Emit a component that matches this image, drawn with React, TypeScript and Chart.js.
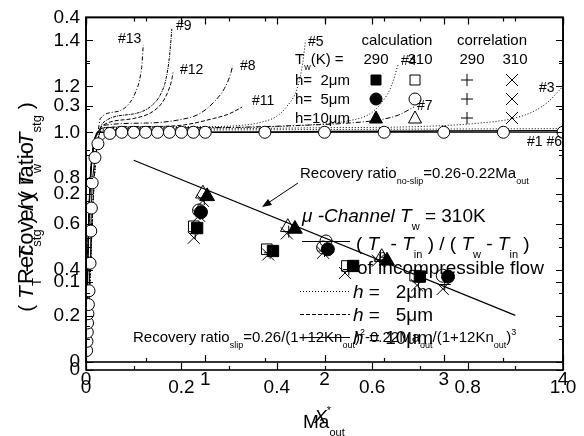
import React, { useEffect, useRef } from 'react';
import { Chart, registerables } from 'chart.js';
Chart.register(...registerables);

const FONT = '"Liberation Sans", Arial, sans-serif';

// ---------- Chart A : Recovery ratio vs Ma_out ----------
const maTicks = [0, 0.2, 0.4, 0.6, 0.8, 1.0];
const maMinor = [0.1, 0.3, 0.5, 0.7, 0.9];
const rrTicks = [0, 0.1, 0.2, 0.3, 0.4];
const rrMinor = [0.05, 0.15, 0.25, 0.35];

const noSlipMa = [0.1, 0.9];
const noSlipRR = [0.238, 0.062];

// calculation, Tw = 290 K (filled)
const sq290Ma = [0.233, 0.392, 0.56, 0.7];
const sq290RR = [0.161, 0.135, 0.118, 0.106];
const ci290Ma = [0.241, 0.507, 0.759];
const ci290RR = [0.179, 0.137, 0.106];
const tr290Ma = [0.254, 0.438, 0.631];
const tr290RR = [0.197, 0.16, 0.124];
// calculation, Tw = 310 K (open)
const sq310Ma = [0.226, 0.379, 0.547, 0.69];
const sq310RR = [0.163, 0.137, 0.118, 0.107];
const ci310Ma = [0.237, 0.497, 0.748];
const ci310RR = [0.181, 0.139, 0.107];
const tr310Ma = [0.245, 0.423, 0.62];
const tr310RR = [0.2, 0.162, 0.128];
// correlation 290 K (+) and 310 K (x)
const corr290Ma = [0.229, 0.386, 0.551, 0.697, 0.239, 0.5, 0.752, 0.248, 0.425, 0.616];
const corr290RR = [0.155, 0.133, 0.114, 0.1, 0.177, 0.135, 0.097, 0.194, 0.157, 0.125];
const corr310Ma = [0.226, 0.382, 0.543, 0.694, 0.237, 0.497, 0.748, 0.245, 0.421, 0.612];
const corr310RR = [0.15, 0.131, 0.11, 0.096, 0.175, 0.133, 0.092, 0.192, 0.155, 0.124];

// ---------- Chart B : temperature ratio vs X* ----------
const xsTicks = [0, 1, 2, 3, 4];
const xsMinor = [0.5, 1.5, 2.5, 3.5];
const thTicks = [0, 0.2, 0.4, 0.6, 0.8, 1.0, 1.2, 1.4];
const thMinor = [0.1, 0.3, 0.5, 0.7, 0.9, 1.1, 1.3, 1.5];

const incX = [0.005, 0.008, 0.011, 0.013, 0.016, 0.02, 0.025, 0.034, 0.04, 0.045, 0.052, 0.075, 0.1, 0.2, 0.3, 0.4, 0.5, 0.6, 0.7, 0.8, 0.9, 1.0, 1.5, 2.0, 2.5, 3.0, 3.5, 4.0];
const incY = [0.05, 0.09, 0.13, 0.17, 0.21, 0.25, 0.31, 0.43, 0.57, 0.67, 0.78, 0.89, 0.95, 0.995, 1, 1, 1, 1, 1, 1, 1, 1, 1, 1, 1, 1, 1, 1];

const riseX = [0, 0.01, 0.02, 0.03, 0.045, 0.07, 0.1];
const riseY = [0, 0.3, 0.55, 0.72, 0.86, 0.96, 1.0];
const riseDotX = [0, 0.02, 0.04, 0.06, 0.08, 0.11];
const riseDotY = [0, 0.2, 0.45, 0.7, 0.88, 0.99];

const c13X = [0.12, 0.26, 0.37, 0.42, 0.45, 0.47, 0.48];
const c13Y = [1.06, 1.09, 1.13, 1.18, 1.23, 1.3, 1.38];
const c9X = [0.14, 0.4, 0.56, 0.63, 0.67, 0.7, 0.72];
const c9Y = [1.04, 1.08, 1.12, 1.17, 1.23, 1.33, 1.45];
const c12X = [0.14, 0.4, 0.56, 0.64, 0.69, 0.72, 0.73];
const c12Y = [1.03, 1.06, 1.09, 1.13, 1.18, 1.23, 1.26];
const c8X = [0.15, 0.5, 0.79, 0.95, 1.07, 1.16, 1.21, 1.23];
const c8Y = [1.03, 1.04, 1.055, 1.08, 1.13, 1.19, 1.25, 1.29];
const c11X = [0.15, 0.5, 0.79, 1.07, 1.2, 1.31];
const c11Y = [1.02, 1.025, 1.03, 1.06, 1.08, 1.11];
const c5X = [0.15, 1.0, 1.3, 1.48, 1.6, 1.68, 1.77, 1.82, 1.84];
const c5Y = [1.02, 1.025, 1.03, 1.045, 1.07, 1.11, 1.19, 1.31, 1.4];
const c4X = [0.15, 1.0, 1.8, 2.2, 2.38, 2.48, 2.56, 2.62];
const c4Y = [1.02, 1.02, 1.03, 1.05, 1.08, 1.13, 1.2, 1.3];
const c7X = [0.15, 1.0, 1.8, 2.2, 2.47, 2.62, 2.75];
const c7Y = [1.015, 1.02, 1.03, 1.04, 1.055, 1.075, 1.11];
const c3X = [0.15, 1.0, 2.0, 2.8, 3.3, 3.58, 3.75, 3.87, 4.0];
const c3Y = [1.01, 1.015, 1.02, 1.025, 1.04, 1.06, 1.09, 1.13, 1.2];
const c6X = [0.15, 1, 2, 3, 4];
const c6Y = [1.01, 1.01, 1.012, 1.014, 1.016];
const c1X = [0.15, 1, 2, 3, 4];
const c1Y = [1.0, 1.0, 1.003, 1.005, 1.007];

const pts = (xs: number[], ys: number[]) => xs.map((x, i) => ({ x, y: ys[i] }));

type Seg = { t: string; sub?: boolean; sup?: boolean; it?: boolean };
const fontFor = (size: number, it?: boolean) => `${it ? 'italic ' : ''}${size}px ${FONT}`;

function drawRich(ctx: CanvasRenderingContext2D, x: number, y: number, segs: Seg[], size: number, align: string = 'left') {
  ctx.save();
  ctx.textBaseline = 'alphabetic';
  ctx.textAlign = 'left';
  ctx.fillStyle = '#000';
  const small = Math.round(size * 0.6);
  let total = 0;
  const widths = segs.map((s) => {
    ctx.font = fontFor(s.sub || s.sup ? small : size, s.it);
    const w = ctx.measureText(s.t).width;
    total += w;
    return w;
  });
  let cx = align === 'center' ? x - total / 2 : align === 'right' ? x - total : x;
  segs.forEach((s, i) => {
    ctx.font = fontFor(s.sub || s.sup ? small : size, s.it);
    const dy = s.sub ? size * 0.4 : s.sup ? -size * 0.45 : 0;
    ctx.fillText(s.t, cx, y + dy);
    cx += widths[i];
  });
  ctx.restore();
}

function drawVertical(ctx: CanvasRenderingContext2D, x: number, y: number, segs: Seg[], size: number) {
  ctx.save();
  ctx.translate(x, y);
  ctx.rotate(-Math.PI / 2);
  drawRich(ctx, 0, 0, segs, size, 'center');
  ctx.restore();
}

function drawFrame(chart: any, xMaj: number[], xMin: number[], yMaj: number[], yMin: number[]) {
  const { ctx, chartArea: a, scales } = chart;
  const xs = scales.x;
  const ys = scales.y;
  ctx.save();
  ctx.strokeStyle = '#000';
  ctx.lineWidth = 1.2;
  ctx.beginPath();
  const vx = (vals: number[], len: number) =>
    vals.forEach((v) => {
      const p = Math.round(xs.getPixelForValue(v)) + 0.5;
      ctx.moveTo(p, a.bottom);
      ctx.lineTo(p, a.bottom - len);
      ctx.moveTo(p, a.top);
      ctx.lineTo(p, a.top + len);
    });
  const vy = (vals: number[], len: number) =>
    vals.forEach((v) => {
      const p = Math.round(ys.getPixelForValue(v)) + 0.5;
      ctx.moveTo(a.left, p);
      ctx.lineTo(a.left + len, p);
      ctx.moveTo(a.right, p);
      ctx.lineTo(a.right - len, p);
    });
  vx(xMaj, 7);
  vx(xMin, 4);
  vy(yMaj, 7);
  vy(yMin, 4);
  ctx.stroke();
  ctx.lineWidth = 1.6;
  ctx.strokeRect(a.left, a.top, a.right - a.left, a.bottom - a.top);
  ctx.restore();
}

function marker(ctx: CanvasRenderingContext2D, kind: string, x: number, y: number, filled: boolean) {
  ctx.save();
  ctx.strokeStyle = '#000';
  ctx.fillStyle = '#000';
  ctx.lineWidth = 1;
  ctx.beginPath();
  if (kind === 'sq') {
    ctx.rect(x - 5, y - 5, 10, 10);
  } else if (kind === 'ci') {
    ctx.arc(x, y, 6, 0, Math.PI * 2);
  } else if (kind === 'tr') {
    ctx.moveTo(x, y - 7);
    ctx.lineTo(x + 6.5, y + 5);
    ctx.lineTo(x - 6.5, y + 5);
    ctx.closePath();
  } else if (kind === 'plus') {
    ctx.moveTo(x - 6, y);
    ctx.lineTo(x + 6, y);
    ctx.moveTo(x, y - 6);
    ctx.lineTo(x, y + 6);
  } else if (kind === 'x') {
    ctx.moveTo(x - 6, y - 6);
    ctx.lineTo(x + 6, y + 6);
    ctx.moveTo(x + 6, y - 6);
    ctx.lineTo(x - 6, y + 6);
  }
  if (filled) ctx.fill();
  ctx.stroke();
  ctx.restore();
}

const pluginA = {
  id: 'frameA',
  afterDraw(chart: any) {
    const ctx: CanvasRenderingContext2D = chart.ctx;
    drawFrame(chart, maTicks, maMinor, rrTicks, rrMinor);

    // axis titles
    drawVertical(ctx, 33, 207, [
      { t: '( ' }, { t: 'T', it: true }, { t: 'T', sub: true }, { t: ' - ' }, { t: 'T', it: true }, { t: 'stg', sub: true },
      { t: ' ) / ( ' }, { t: 'T', it: true }, { t: 'w', sub: true }, { t: ' - ' }, { t: 'T', it: true }, { t: 'stg', sub: true }, { t: ' )' },
    ], 21);
    drawVertical(ctx, 33, 213, [{ t: 'Recovery ratio' }], 22);
    drawRich(ctx, 303, 428, [{ t: 'Ma' }, { t: 'out', sub: true }], 19);
    drawRich(ctx, 314, 423, [{ t: 'X', it: true }, { t: '*', sup: true }], 19);

    // no-slip annotation
    drawRich(ctx, 300, 178, [{ t: 'Recovery ratio' }, { t: 'no-slip', sub: true }, { t: '=0.26-0.22Ma' }, { t: 'out', sub: true }], 15);
    ctx.save();
    ctx.strokeStyle = '#000';
    ctx.fillStyle = '#000';
    ctx.lineWidth = 1;
    ctx.beginPath();
    ctx.moveTo(298, 183);
    ctx.lineTo(268, 203);
    ctx.stroke();
    ctx.beginPath();
    ctx.moveTo(262, 207);
    ctx.lineTo(268, 199);
    ctx.lineTo(272, 205);
    ctx.closePath();
    ctx.fill();
    ctx.restore();

    // slip annotation
    drawRich(ctx, 133, 342, [
      { t: 'Recovery ratio' }, { t: 'slip', sub: true }, { t: '=0.26/(1+12Kn' }, { t: 'out', sub: true }, { t: ')' }, { t: '2', sup: true },
      { t: '-0.22Ma' }, { t: 'out', sub: true }, { t: '/(1+12Kn' }, { t: 'out', sub: true }, { t: ')' }, { t: '3', sup: true },
    ], 15);

    // lower legend
    drawRich(ctx, 302, 222, [{ t: 'μ -Channel ', it: true }, { t: 'T', it: true }, { t: 'w', sub: true }, { t: ' = 310K' }], 19);
    ctx.save();
    ctx.strokeStyle = '#000';
    ctx.lineWidth = 1;
    ctx.beginPath();
    ctx.moveTo(302, 241.5);
    ctx.lineTo(350, 241.5);
    ctx.stroke();
    ctx.restore();
    marker(ctx, 'ci', 326, 241, false);
    drawRich(ctx, 356, 250, [
      { t: '( ' }, { t: 'T', it: true }, { t: 'b', sub: true }, { t: ' - ' }, { t: 'T', it: true }, { t: 'in', sub: true },
      { t: ' ) / ( ' }, { t: 'T', it: true }, { t: 'w', sub: true }, { t: ' - ' }, { t: 'T', it: true }, { t: 'in', sub: true }, { t: ' )' },
    ], 19);
    drawRich(ctx, 357, 274, [{ t: 'of incompressible flow' }], 19);
    const legLines: [number, number[], string][] = [
      [291, [1, 2], '2'],
      [314, [4, 2], '5'],
      [337, [], '10'],
    ];
    legLines.forEach(([ly, dash, lab]) => {
      ctx.save();
      ctx.strokeStyle = '#000';
      ctx.lineWidth = 1;
      ctx.setLineDash(dash);
      ctx.beginPath();
      ctx.moveTo(300, ly + 0.5);
      ctx.lineTo(350, ly + 0.5);
      ctx.stroke();
      ctx.restore();
      drawRich(ctx, 353, ly + 7, [{ t: 'h', it: true }, { t: lab === '10' ? ' = 10μm' : ' =   ' + lab + 'μm' }], 19);
    });

    // upper legend table
    drawRich(ctx, 397, 45, [{ t: 'calculation' }], 15, 'center');
    drawRich(ctx, 492, 45, [{ t: 'correlation' }], 15, 'center');
    drawRich(ctx, 295, 64, [{ t: 'T' }, { t: 'w', sub: true }, { t: '(K) =' }], 15);
    drawRich(ctx, 376, 64, [{ t: '290' }], 15, 'center');
    drawRich(ctx, 420, 64, [{ t: '310' }], 15, 'center');
    drawRich(ctx, 472, 64, [{ t: '290' }], 15, 'center');
    drawRich(ctx, 515, 64, [{ t: '310' }], 15, 'center');
    const rows: [number, string, string][] = [
      [85, 'h=  2μm', 'sq'],
      [104, 'h=  5μm', 'ci'],
      [123, 'h=10μm', 'tr'],
    ];
    rows.forEach(([by, lab, kind]) => {
      drawRich(ctx, 295, by, [{ t: lab }], 15);
      marker(ctx, kind, 376, by - 5, true);
      marker(ctx, kind, 415, by - 5, false);
      marker(ctx, 'plus', 467, by - 5, false);
      marker(ctx, 'x', 512, by - 5, false);
    });
  },
};

const pluginB = {
  id: 'frameB',
  afterDraw(chart: any) {
    const ctx: CanvasRenderingContext2D = chart.ctx;
    drawFrame(chart, xsTicks, xsMinor, thTicks, thMinor);
    const labels: [string, number, number][] = [
      ['#13', 118, 43],
      ['#9', 176, 30],
      ['#12', 180, 74],
      ['#8', 240, 70],
      ['#11', 252, 105],
      ['#5', 308, 46],
      ['#4', 401, 65],
      ['#7', 417, 110],
      ['#3', 539, 92],
      ['#1 #6', 527, 146],
    ];
    labels.forEach(([t, x, y]) => drawRich(ctx, x, y, [{ t }], 14));
  },
};

const tickFont = { family: FONT, size: 19 };
const dec = (v: any) => (Number(v) === 0 ? '0' : Number(v).toFixed(1));

function scaleX(min: number, max: number, ticks: number[], height: number, pad: number, cb: (v: any) => string) {
  return {
    type: 'linear',
    min,
    max,
    afterBuildTicks: (s: any) => {
      s.ticks = ticks.map((v) => ({ value: v }));
    },
    afterFit: (s: any) => {
      s.height = height;
    },
    grid: { display: false, drawTicks: false },
    border: { display: false },
    ticks: { font: tickFont, color: '#000', padding: pad, maxRotation: 0, autoSkip: false, callback: cb },
  };
}
function scaleY(min: number, max: number, ticks: number[], pad: number, cb: (v: any) => string) {
  return {
    type: 'linear',
    min,
    max,
    afterBuildTicks: (s: any) => {
      s.ticks = ticks.map((v) => ({ value: v }));
    },
    afterFit: (s: any) => {
      s.width = 86;
    },
    grid: { display: false, drawTicks: false },
    border: { display: false },
    ticks: { font: tickFont, color: '#000', padding: pad, autoSkip: false, callback: cb },
  };
}

const markerDS = (data: any[], style: string, radius: number, filled: boolean, bw = 1) => ({
  data,
  showLine: false,
  pointStyle: style,
  pointRadius: radius,
  pointBackgroundColor: filled ? '#000' : 'rgba(0,0,0,0)',
  pointBorderColor: '#000',
  pointBorderWidth: bw,
});

const lineDS = (data: any[], dash: number[], width = 1) => ({
  data,
  showLine: true,
  pointRadius: 0,
  borderColor: '#000',
  borderWidth: width,
  borderDash: dash,
  cubicInterpolationMode: 'monotone',
  fill: false,
});

export default function App() {
  const refA = useRef<HTMLCanvasElement>(null);
  const refB = useRef<HTMLCanvasElement>(null);

  useEffect(() => {
    const solidRise = (xs: number[], ys: number[]) => pts([...riseX, ...xs], [...riseY, ...ys]);
    const dotRise = (xs: number[], ys: number[]) => pts([...riseDotX, ...xs], [...riseDotY, ...ys]);

    const chartB = new Chart(refB.current as HTMLCanvasElement, {
      type: 'scatter',
      data: {
        datasets: [
          {
            data: pts(incX, incY),
            showLine: true,
            borderColor: '#000',
            borderWidth: 1,
            pointStyle: 'circle',
            pointRadius: 6,
            pointBackgroundColor: '#fff',
            pointBorderColor: '#000',
            pointBorderWidth: 1,
          },
          lineDS(solidRise(c1X, c1Y), [], 1.5),
          lineDS(dotRise(c6X, c6Y), [1, 2]),
          lineDS(dotRise(c3X, c3Y), [1, 2]),
          lineDS(solidRise(c7X, c7Y), [5, 2, 1, 2]),
          lineDS(dotRise(c4X, c4Y), [1, 2]),
          lineDS(dotRise(c5X, c5Y), [1, 2]),
          lineDS(solidRise(c11X, c11Y), [4, 2]),
          lineDS(solidRise(c8X, c8Y), [5, 2, 1, 2]),
          lineDS(solidRise(c12X, c12Y), [4, 2]),
          lineDS(dotRise(c9X, c9Y), [3, 1, 1, 1]),
          lineDS(solidRise(c13X, c13Y), [4, 2, 1, 2]),
        ] as any,
      },
      options: {
        responsive: false,
        animation: false,
        devicePixelRatio: 1,
        layout: { padding: { left: 0, right: 21, top: 11, bottom: 0 } },
        plugins: { legend: { display: false }, tooltip: { enabled: false } },
        scales: {
          x: scaleX(0, 4, xsTicks, 74, 6, (v: any) => String(v)),
          y: scaleY(0, 1.5, thTicks, 6, dec),
        } as any,
      },
      plugins: [pluginB],
    });

    const chartA = new Chart(refA.current as HTMLCanvasElement, {
      type: 'scatter',
      data: {
        datasets: [
          markerDS(pts(corr310Ma, corr310RR), 'crossRot', 8.5, false),
          markerDS(pts(corr290Ma, corr290RR), 'cross', 6, false),
          markerDS(pts(sq290Ma, sq290RR), 'rect', 8, true),
          markerDS(pts(ci290Ma, ci290RR), 'circle', 6.5, true),
          markerDS(pts(tr290Ma, tr290RR), 'triangle', 8.5, true),
          markerDS(pts(sq310Ma, sq310RR), 'rect', 7.5, false),
          markerDS(pts(ci310Ma, ci310RR), 'circle', 6.5, false),
          markerDS(pts(tr310Ma, tr310RR), 'triangle', 8.5, false),
          { data: pts(noSlipMa, noSlipRR), showLine: true, pointRadius: 0, borderColor: '#000', borderWidth: 1.2 },
        ] as any,
      },
      options: {
        responsive: false,
        animation: false,
        devicePixelRatio: 1,
        layout: { padding: { left: 0, right: 21, top: 15, bottom: 0 } },
        plugins: { legend: { display: false }, tooltip: { enabled: false } },
        scales: {
          x: scaleX(0, 1, maTicks, 66, 6, dec),
          y: scaleY(0, 0.4, rrTicks, 6, dec),
        } as any,
      },
      plugins: [pluginA],
    });

    return () => {
      chartA.destroy();
      chartB.destroy();
    };
  }, []);

  return (
    <div style={{ position: 'fixed', left: 0, top: 0, width: 584, height: 436, background: '#fff' }}>
      <canvas ref={refB} width={584} height={436} style={{ position: 'absolute', left: 0, top: 0 }} />
      <canvas ref={refA} width={584} height={436} style={{ position: 'absolute', left: 0, top: 0 }} />
    </div>
  );
}
